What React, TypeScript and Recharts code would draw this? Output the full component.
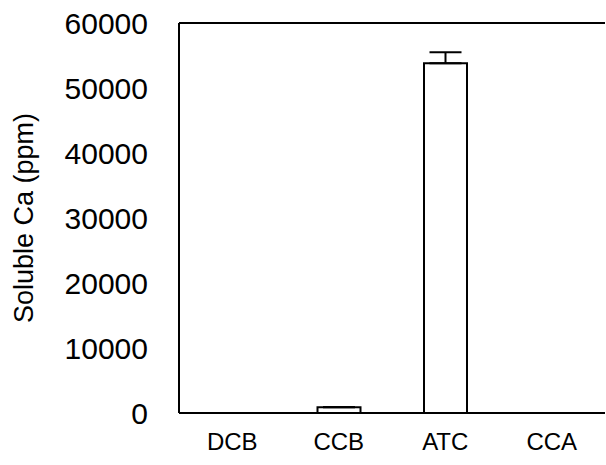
import { Bar, BarChart, ErrorBar, ReferenceLine, XAxis, YAxis } from "recharts";

// soluble calcium per treatment
const categories = ["DCB", "CCB", "ATC", "CCA"];
const solubleCa = [0, 900, 53800, 0];
const errUp = [0, 0, 1700, 0];
const yTicks = [0, 10000, 20000, 30000, 40000, 50000, 60000];

const data = categories.map((name, i) => ({
  name,
  v: solubleCa[i],
  err: [0, errUp[i]],
}));

const font = "'Liberation Sans', Arial, sans-serif";

export default function App() {
  return (
    <div style={{ position: "absolute", left: 0, top: 0, background: "#fff" }}>
      <BarChart
        width={606}
        height={465}
        data={data}
        margin={{ top: 23, right: 1, bottom: 0, left: 0 }}
      >
        <XAxis
          dataKey="name"
          height={52}
          tickSize={0}
          tickMargin={20}
          axisLine={{ stroke: "#000", strokeWidth: 2 }}
          tick={{ fill: "#000", fontSize: 24, fontFamily: font }}
        />
        <YAxis
          width={179}
          domain={[0, 60000]}
          ticks={yTicks}
          interval={0}
          tickSize={0}
          tickMargin={31}
          axisLine={{ stroke: "#000", strokeWidth: 2 }}
          tick={{ fill: "#000", fontSize: 30, fontFamily: font }}
          label={{
            value: "Soluble Ca (ppm)",
            angle: -90,
            position: "insideLeft",
            offset: 23,
            style: { textAnchor: "middle", fill: "#000", fontSize: 27, fontFamily: font },
          }}
        />
        <YAxis yAxisId="right" orientation="right" width={0} tick={false} tickLine={false}
          axisLine={{ stroke: "#000", strokeWidth: 2 }} />
        <ReferenceLine y={60000} stroke="#000" strokeWidth={2} />
        <Bar dataKey="v" barSize={43} fill="#fff" stroke="#000" strokeWidth={2} isAnimationActive={false}>
          <ErrorBar dataKey="err" direction="y" width={16} stroke="#000" strokeWidth={2} />
        </Bar>
      </BarChart>
    </div>
  );
}
